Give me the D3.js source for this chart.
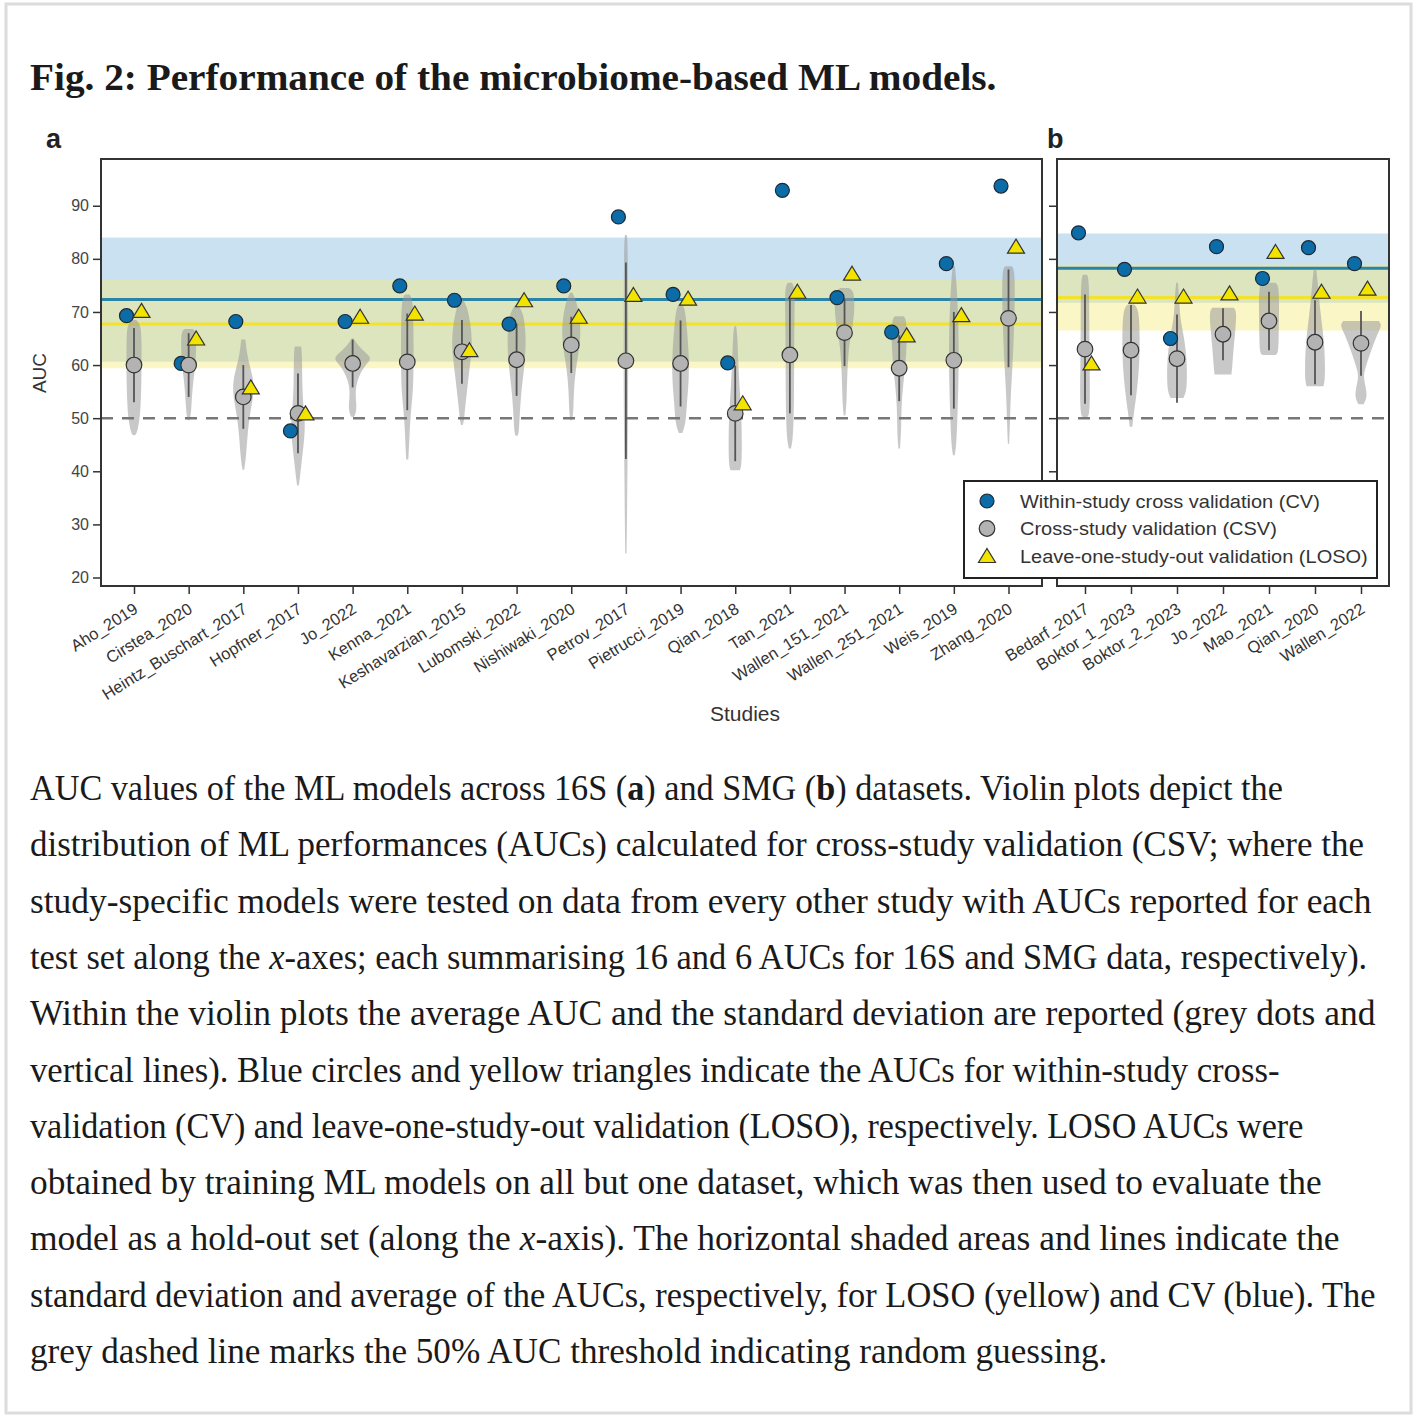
<!DOCTYPE html>
<html>
<head>
<meta charset="utf-8">
<script src="https://cdn.jsdelivr.net/npm/d3@7"></script>
<style>
  body { margin: 0; background: #fff; }
</style>
</head>
<body>
<svg id="fig"></svg>
<script>
// ---- data ----
const studies16S = ["Aho_2019", "Cirstea_2020", "Heintz_Buschart_2017", "Hopfner_2017", "Jo_2022", "Kenna_2021",
  "Keshavarzian_2015", "Lubomski_2022", "Nishiwaki_2020", "Petrov_2017", "Pietrucci_2019", "Qian_2018", "Tan_2021",
  "Wallen_151_2021", "Wallen_251_2021", "Weis_2019", "Zhang_2020"]
const cv16S = [69.3, 60.3, 68.2, 47.6, 68.2, 74.9, 72.2, 67.7, 74.9, 87.9, 73.3, 60.4, 92.9, 72.7, 66.2, 79.1, 93.7]
const csv16S = [60.0, 60.0, 54.0, 50.9, 60.3, 60.6, 62.5, 61.0, 63.8, 60.8, 60.3, 50.9, 61.9, 66.1, 59.4, 60.9, 68.8]
const csvSd16S = [7.0, 6.0, 6.0, 7.5, 4.5, 9.1, 6.0, 6.8, 5.3, 18.5, 8.1, 9.0, 11.0, 6.3, 6.2, 9.1, 9.2]
const loso16S = [70.2, 65.0, 55.8, 50.9, 69.1, 69.7, 62.8, 72.2, 69.1, 73.2, 72.5, 52.8, 73.8, 77.2, 65.6, 69.4, 82.3]
// violin outlines: [AUC, relative density]
const violin16S = [
  [[68.5, 0.1], [67.5, 0.34], [64, 0.36], [58, 0.36], [52, 0.32], [49, 0.24], [47, 0.12], [46.8, 0.04]],
  [[66.8, 0.2], [66.3, 0.36], [63, 0.36], [60, 0.32], [57, 0.22], [54, 0.15], [51, 0.12], [49.6, 0.04]],
  [[64.8, 0.1], [62, 0.18], [60, 0.3], [57, 0.5], [54, 0.48], [51, 0.32], [47, 0.2], [43, 0.14], [40.3, 0.04]],
  [[63.5, 0.15], [62, 0.2], [56, 0.2], [52, 0.26], [49, 0.34], [46, 0.3], [42, 0.18], [39, 0.1], [37.3, 0.04]],
  [[65, 0.05], [64, 0.2], [62.5, 0.55], [61.3, 0.95], [60, 0.6], [58, 0.3], [56, 0.15], [54, 0.14], [52, 0.2], [50.5, 0.12], [50.2, 0.03]],
  [[73.3, 0.1], [72.5, 0.28], [65, 0.3], [58, 0.3], [54, 0.25], [50, 0.14], [46, 0.1], [42.2, 0.05]],
  [[72.3, 0.05], [71, 0.25], [68, 0.4], [65, 0.48], [62, 0.45], [58, 0.32], [55, 0.24], [52, 0.15], [49.5, 0.1], [48.7, 0.04]],
  [[71.2, 0.08], [70, 0.3], [67, 0.42], [63, 0.44], [59, 0.35], [55, 0.22], [50, 0.14], [47, 0.1], [46.7, 0.04]],
  [[73.6, 0.06], [72, 0.25], [69, 0.4], [66, 0.45], [63, 0.38], [59, 0.2], [55, 0.12], [51, 0.1], [49.6, 0.04]],
  [[84.5, 0.05], [82, 0.09], [70, 0.1], [60, 0.11], [50, 0.1], [40, 0.07], [30, 0.05], [24.5, 0.03]],
  [[71.7, 0.05], [70.5, 0.22], [67, 0.3], [62, 0.4], [57, 0.4], [53, 0.3], [49, 0.25], [47.2, 0.08]],
  [[67.3, 0.04], [66, 0.1], [60, 0.15], [55, 0.22], [50, 0.3], [45, 0.32], [41, 0.3], [40.2, 0.22]],
  [[75.5, 0.1], [74.5, 0.24], [70, 0.22], [62, 0.2], [55, 0.2], [50, 0.18], [46, 0.14], [44.3, 0.05]],
  [[74.5, 0.2], [74, 0.45], [71, 0.48], [68, 0.42], [65, 0.26], [61, 0.16], [57, 0.12], [53, 0.1], [50.5, 0.04]],
  [[69.2, 0.2], [68.5, 0.36], [64, 0.36], [60, 0.3], [56, 0.18], [52, 0.1], [48, 0.1], [44.3, 0.04]],
  [[78.6, 0.05], [76, 0.12], [70, 0.2], [63, 0.24], [57, 0.22], [50, 0.17], [45, 0.12], [43, 0.04]],
  [[78.6, 0.15], [78, 0.3], [72, 0.3], [65, 0.25], [59, 0.18], [54, 0.1], [49, 0.07], [45.2, 0.03]]
]

const studiesSMG = ["Bedarf_2017", "Boktor_1_2023", "Boktor_2_2023", "Jo_2022", "Mao_2021", "Qian_2020", "Wallen_2022"]
const cvSMG = [84.9, 78.0, 65.0, 82.3, 76.3, 82.1, 79.1]
const csvSMG = [63.0, 62.8, 61.2, 65.8, 68.3, 64.3, 64.1]
const csvSdSMG = [10.3, 8.5, 8.3, 4.9, 5.5, 7.9, 6.1]
const losoSMG = [60.3, 72.9, 72.9, 73.5, 81.3, 73.8, 74.4]
const violinSMG = [
  [[77, 0.1], [76, 0.2], [68, 0.2], [60, 0.22], [54, 0.24], [50.5, 0.2], [50.2, 0.1]],
  [[71.4, 0.15], [70.5, 0.38], [65, 0.42], [60, 0.4], [55, 0.28], [51, 0.14], [48.4, 0.06]],
  [[75.5, 0.04], [73, 0.1], [69, 0.14], [66, 0.3], [62, 0.45], [58, 0.48], [55, 0.45], [53.8, 0.3]],
  [[70.8, 0.5], [70.2, 0.65], [67, 0.6], [63, 0.5], [60, 0.45], [58.2, 0.4]],
  [[75.5, 0.3], [75, 0.48], [70, 0.48], [65, 0.46], [62.2, 0.44], [61.9, 0.3]],
  [[78, 0.06], [76, 0.12], [72, 0.2], [68, 0.32], [64, 0.44], [60, 0.48], [57, 0.47], [56, 0.4]],
  [[68.3, 0.85], [67.5, 1.0], [66, 0.8], [63, 0.5], [60, 0.25], [58, 0.1], [56, 0.22], [54, 0.3], [52.6, 0.12]]
]

const yTicks = [20, 30, 40, 50, 60, 70, 80, 90]
const legendLabels = ["Within-study cross validation (CV)", "Cross-study validation (CSV)", "Leave-one-study-out validation (LOSO)"]

const titleText = "Fig. 2: Performance of the microbiome-based ML models."
const captionLines = [
  [["AUC values of the ML models across 16S ("], ["a", "b"], [") and SMG ("], ["b", "b"], [") datasets. Violin plots depict the"]],
  [["distribution of ML performances (AUCs) calculated for cross-study validation (CSV; where the"]],
  [["study-specific models were tested on data from every other study with AUCs reported for each"]],
  [["test set along the "], ["x", "i"], ["-axes; each summarising 16 and 6 AUCs for 16S and SMG data, respectively)."]],
  [["Within the violin plots the average AUC and the standard deviation are reported (grey dots and"]],
  [["vertical lines). Blue circles and yellow triangles indicate the AUCs for within-study cross-"]],
  [["validation (CV) and leave-one-study-out validation (LOSO), respectively. LOSO AUCs were"]],
  [["obtained by training ML models on all but one dataset, which was then used to evaluate the"]],
  [["model as a hold-out set (along the "], ["x", "i"], ["-axis). The horizontal shaded areas and lines indicate the"]],
  [["standard deviation and average of the AUCs, respectively, for LOSO (yellow) and CV (blue). The"]],
  [["grey dashed line marks the 50% AUC threshold indicating random guessing."]]
]
const captionWidths = [1253, 1334, 1342, 1338, 1346, 1250, 1274, 1292, 1310, 1346, 1078]

// ---- drawing ----
const W = 1418, H = 1418
const svg = d3.select("#fig").attr("width", W).attr("height", H)
const sans = "'Liberation Sans', Arial, sans-serif"
const serif = "'Liberation Serif', 'Times New Roman', serif"

svg.append("rect").attr("x", 6).attr("y", 4).attr("width", 1405).attr("height", 1409)
  .attr("fill", "#fff").attr("stroke", "#dcdcdc").attr("stroke-width", 3)

// squeeze a text horizontally so it spans the given width
function fitWidth(t, x, yPos, width) {
  const natural = t.node().getComputedTextLength()
  t.attr("transform", `translate(${x},${yPos}) scale(${width / natural},1)`)
}

const title = svg.append("text")
  .attr("font-family", serif).attr("font-weight", "bold").attr("font-size", 38)
  .attr("fill", "#1a1a1a").text(titleText)
fitWidth(title, 30, 90, 967)

const plotTop = 159, plotBottom = 586
const y = d3.scaleLinear().domain([18.4, 98.8]).range([plotBottom, plotTop])
const vw = d3.scaleLinear().domain([0, 1]).range([0, 42])

const panels = [
  { left: 101, right: 1042, studies: studies16S, cv: cv16S, csv: csv16S, sd: csvSd16S, loso: loso16S, violins: violin16S,
    x: d3.scalePoint().domain(studies16S).range([134, 1008.5]), off: 7.5, label: "a", labelX: 46, yLabels: true },
  { left: 1057, right: 1389, studies: studiesSMG, cv: cvSMG, csv: csvSMG, sd: csvSdSMG, loso: losoSMG, violins: violinSMG,
    x: d3.scalePoint().domain(studiesSMG).range([1085, 1361]), off: 6.5, label: "b", labelX: 1047, yLabels: false }
]

const triangle = (cx, cy) => `M${cx},${cy - 7.5}L${cx + 8.5},${cy + 6.5}L${cx - 8.5},${cy + 6.5}Z`

panels.forEach(p => {
  const g = svg.append("g")
  const cvMean = d3.mean(p.cv), cvSd = d3.deviation(p.cv)
  const losoMean = d3.mean(p.loso), losoSd = d3.deviation(p.loso)

  // shaded sd bands
  g.append("rect").attr("x", p.left).attr("width", p.right - p.left)
    .attr("y", y(cvMean + cvSd)).attr("height", y(cvMean - cvSd) - y(cvMean + cvSd))
    .attr("fill", "#9cc8e6").attr("opacity", 0.55)
  g.append("rect").attr("x", p.left).attr("width", p.right - p.left)
    .attr("y", y(losoMean + losoSd)).attr("height", y(losoMean - losoSd) - y(losoMean + losoSd))
    .attr("fill", "#f5ec80").attr("opacity", 0.45)

  g.append("line").attr("x1", p.left).attr("x2", p.right).attr("y1", y(cvMean)).attr("y2", y(cvMean))
    .attr("stroke", "#2a84a6").attr("stroke-width", 3)
  g.append("line").attr("x1", p.left).attr("x2", p.right).attr("y1", y(losoMean)).attr("y2", y(losoMean))
    .attr("stroke", "#f2e22c").attr("stroke-width", 3)

  // violins
  const area = d3.area()
    .curve(d3.curveBasis)
  p.violins.forEach((v, i) => {
    const cx = p.x(p.studies[i])
    g.append("path").datum(v)
      .attr("d", area.x0(d => cx - vw(d[1]) / 2).x1(d => cx + vw(d[1]) / 2).y(d => y(d[0])))
      .attr("fill", "#9a9a9a").attr("opacity", 0.55)
  })

  g.append("line").attr("x1", p.left).attr("x2", p.right).attr("y1", y(50)).attr("y2", y(50))
    .attr("stroke", "#777").attr("stroke-width", 2.5).attr("stroke-dasharray", "12,9")

  // sd lines
  g.selectAll(".sd").data(p.csv).enter().append("line")
    .attr("x1", (d, i) => p.x(p.studies[i])).attr("x2", (d, i) => p.x(p.studies[i]))
    .attr("y1", (d, i) => y(d + p.sd[i])).attr("y2", (d, i) => y(d - p.sd[i]))
    .attr("stroke", "#555").attr("stroke-width", 1.8)

  g.selectAll(".cv").data(p.cv).enter().append("circle")
    .attr("cx", (d, i) => p.x(p.studies[i]) - p.off).attr("cy", d => y(d)).attr("r", 7)
    .attr("fill", "#0b6ca8").attr("stroke", "#1c2a36").attr("stroke-width", 1.2)

  g.selectAll(".csv").data(p.csv).enter().append("circle")
    .attr("cx", (d, i) => p.x(p.studies[i])).attr("cy", d => y(d)).attr("r", 7.8)
    .attr("fill", "#b3b3b3").attr("stroke", "#333").attr("stroke-width", 1.2)

  g.selectAll(".loso").data(p.loso).enter().append("path")
    .attr("d", (d, i) => triangle(p.x(p.studies[i]) + p.off, y(d)))
    .attr("fill", "#f3e400").attr("stroke", "#333").attr("stroke-width", 1.2)

  // frame
  g.append("rect").attr("x", p.left).attr("y", plotTop).attr("width", p.right - p.left).attr("height", plotBottom - plotTop)
    .attr("fill", "none").attr("stroke", "#333").attr("stroke-width", 2)

  // axes
  const ya = g.append("g").attr("transform", `translate(${p.left},0)`)
    .call(d3.axisLeft(y).tickValues(yTicks).tickSize(8).tickFormat(p.yLabels ? d3.format("d") : ""))
  ya.select(".domain").remove()
  ya.selectAll("line").attr("stroke", "#333").attr("stroke-width", 1.5)
  ya.selectAll("text").attr("font-family", sans).attr("font-size", 16).attr("fill", "#444").attr("dx", -1)

  const xa = g.append("g").attr("transform", `translate(0,${plotBottom})`)
    .call(d3.axisBottom(p.x).tickSize(8).tickFormat(""))
  xa.select(".domain").remove()
  xa.selectAll("line").attr("stroke", "#333").attr("stroke-width", 1.5)

  g.selectAll(".xl").data(p.studies).enter().append("text")
    .attr("transform", d => `translate(${p.x(d) + 5},${plotBottom + 26}) rotate(-32)`)
    .attr("text-anchor", "end").attr("font-family", sans).attr("font-size", 16.5).attr("fill", "#333")
    .text(d => d)

  svg.append("text").attr("x", p.labelX).attr("y", 148)
    .attr("font-family", sans).attr("font-weight", "bold").attr("font-size", 27).attr("fill", "#222")
    .text(p.label)
})

svg.append("text").attr("transform", "translate(46,373) rotate(-90)")
  .attr("text-anchor", "middle").attr("font-family", sans).attr("font-size", 19).attr("fill", "#333")
  .text("AUC")

svg.append("text").attr("x", 745).attr("y", 721).attr("text-anchor", "middle")
  .attr("font-family", sans).attr("font-size", 21).attr("fill", "#333").text("Studies")

// legend
const lg = svg.append("g")
lg.append("rect").attr("x", 964).attr("y", 481).attr("width", 413).attr("height", 97)
  .attr("fill", "#fff").attr("stroke", "#222").attr("stroke-width", 2)
const legendY = d3.scalePoint().domain(legendLabels).range([501, 556])
const legendW = [300, 257, 348]
legendLabels.forEach((t, i) => {
  const ly = legendY(t)
  if (i === 0) lg.append("circle").attr("cx", 987).attr("cy", ly).attr("r", 7)
    .attr("fill", "#0b6ca8").attr("stroke", "#1c2a36").attr("stroke-width", 1.2)
  if (i === 1) lg.append("circle").attr("cx", 987).attr("cy", ly).attr("r", 7.8)
    .attr("fill", "#b3b3b3").attr("stroke", "#333").attr("stroke-width", 1.2)
  if (i === 2) lg.append("path").attr("d", triangle(987, ly))
    .attr("fill", "#f3e400").attr("stroke", "#333").attr("stroke-width", 1.2)
  const lt = lg.append("text")
    .attr("font-family", sans).attr("font-size", 18.5).attr("fill", "#333")
    .text(t)
  fitWidth(lt, 1020, ly + 6.5, legendW[i])
})

// caption
const capY = d3.scaleLinear().domain([0, captionLines.length - 1]).range([800, 1363])
captionLines.forEach((parts, i) => {
  const t = svg.append("text")
    .attr("font-family", serif).attr("font-size", 36).attr("fill", "#1a1a1a")
  parts.forEach(s => {
    const ts = t.append("tspan").text(s[0])
    if (s[1] === "b") ts.attr("font-weight", "bold")
    if (s[1] === "i") ts.attr("font-style", "italic")
  })
  fitWidth(t, 30, capY(i), captionWidths[i])
})
</script>
</body>
</html>
